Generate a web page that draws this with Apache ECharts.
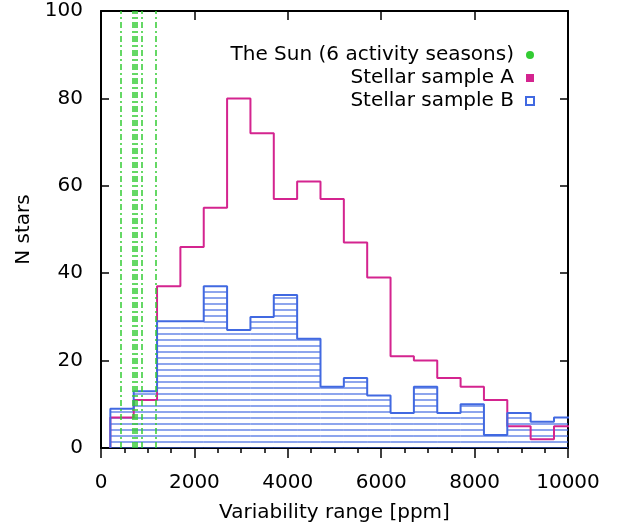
<!DOCTYPE html>
<html><head><meta charset="utf-8">
<script src="https://cdn.jsdelivr.net/npm/echarts@6/dist/echarts.min.js"></script>
<style>html,body{margin:0;padding:0;background:#fff}#c{width:617px;height:524px}</style>
</head><body><div id="c"></div>
<script>
// Bin edges of the histograms [ppm]
const binEdges = [200,700,1200,1700,2200,2700,3200,3700,4200,4700,5200,5700,6200,6700,7200,7700,8200,8700,9200,9700,10200];
// Stellar sample A counts per bin
const sampleA = [7,11,37,46,55,80,72,57,61,57,47,39,21,20,16,14,11,5,2,5];
// Stellar sample B counts per bin
const sampleB = [9,13,29,29,37,27,30,35,25,14,16,12,8,14,8,10,3,8,6,7];
// The Sun: variability range of 6 activity seasons [ppm]
const sunSeasons = [420,690,730,770,870,1170];
const legendNames = ['The Sun (6 activity seasons)','Stellar sample A','Stellar sample B'];

const FONT = 'DejaVu Sans';
const MAGENTA = '#d4248f', BLUE = '#4169e1', GREEN = '#33cc33';
const HATCH = 6;

function outline(vals){
  const pts = [[binEdges[0],0]];
  vals.forEach((v,i)=>{ pts.push([binEdges[i],v]); pts.push([binEdges[i+1],v]); });
  pts.push([binEdges[vals.length],0]);
  return pts;
}

const chart = echarts.init(document.getElementById('c'), null, {renderer:'canvas'});
const axisLine = {show:true, onZero:false, lineStyle:{color:'#000', width:2}};
const lbl = {fontSize:20, color:'#000', fontFamily:FONT};
const plain = v => String(v);
chart.setOption({
  animation:false,
  backgroundColor:'#fff',
  grid:{left:101, right:49, top:11, bottom:76, containLabel:false, outerBoundsMode:'none'},
  legend:{
    orient:'vertical', align:'right', right:77, top:40,
    itemWidth:8, itemHeight:8, itemGap:3,
    textStyle:{fontSize:20, color:'#000', fontFamily:FONT, lineHeight:20, padding:[0,7,0,0]},
    data:[
      {name:legendNames[0], icon:'circle', itemStyle:{color:GREEN, borderWidth:0}},
      {name:legendNames[1], icon:'rect', itemStyle:{color:MAGENTA, borderWidth:0}},
      {name:legendNames[2], icon:'rect', itemStyle:{color:'#fff', borderColor:BLUE, borderWidth:2}}
    ],
    selectedMode:false
  },
  xAxis:[
    {type:'value', position:'bottom', min:0, max:10000, interval:2000,
     axisLine, axisTick:{show:true, inside:false, length:10, lineStyle:{color:'#000', width:1.5}},
     minorTick:{show:true, splitNumber:4, length:5, lineStyle:{color:'#000', width:1.5}},
     splitLine:{show:false}, minorSplitLine:{show:false},
     axisLabel:Object.assign({margin:25, formatter:plain}, lbl),
     name:'Variability range [ppm]', nameLocation:'middle', nameGap:55,
     nameTextStyle:lbl},
    {type:'value', position:'top', min:0, max:10000, interval:2000,
     axisLine, axisTick:{show:true, inside:true, length:9, lineStyle:{color:'#000', width:1.5}},
     axisLabel:{show:false}, splitLine:{show:false}}
  ],
  yAxis:[
    {type:'value', position:'left', min:0, max:100, interval:20,
     axisLine, axisTick:{show:true, inside:true, length:8, lineStyle:{color:'#000', width:1.5}},
     splitLine:{show:false},
     axisLabel:Object.assign({margin:18, formatter:plain}, lbl),
     name:'N stars', nameLocation:'middle', nameGap:60, nameTextStyle:lbl},
    {type:'value', position:'right', min:0, max:100, interval:20,
     axisLine, axisTick:{show:true, inside:true, length:8, lineStyle:{color:'#000', width:1.5}},
     axisLabel:{show:false}, splitLine:{show:false}}
  ],
  series:[
    {
      type:'custom', name:legendNames[2], clip:true, z:2,
      itemStyle:{color:BLUE},
      data: sampleB.map((v,i)=>[binEdges[i], binEdges[i+1], v]),
      encode:{x:[0,1], y:2},
      renderItem(params, api){
        const x0 = api.value(0), x1 = api.value(1), v = api.value(2);
        const p0 = api.coord([x0,0]), p1 = api.coord([x1,v]);
        const children = [];
        for(let y = p0[1]; y >= p1[1] + 1; y -= HATCH){
          children.push({type:'line', shape:{x1:p0[0], y1:y, x2:p1[0], y2:y},
            style:{stroke:BLUE, lineWidth:1.2, opacity:1}});
        }
        return {type:'group', children};
      }
    },
    {
      type:'line', name:legendNames[1], z:3, clip:true, showSymbol:false, symbol:'none',
      data: outline(sampleA), lineStyle:{color:MAGENTA, width:2}, itemStyle:{color:MAGENTA}
    },
    {
      type:'line', name:legendNames[2], z:4, clip:true, showSymbol:false, symbol:'none',
      data: outline(sampleB), lineStyle:{color:BLUE, width:2}, itemStyle:{color:BLUE}
    },
    {
      type:'line', name:legendNames[0], z:5, data:[], itemStyle:{color:GREEN},
      markLine:{
        silent:true, symbol:'none', label:{show:false},
        lineStyle:{color:GREEN, width:1.5, type:[6,3,2,3]},
        data: sunSeasons.map(x=>({xAxis:x}))
      }
    }
  ]
});
</script>
</body></html>
